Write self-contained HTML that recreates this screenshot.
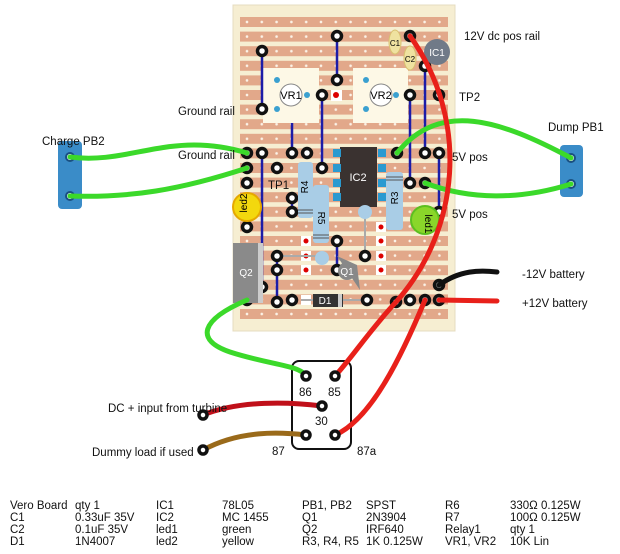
<!DOCTYPE html>
<html><head><meta charset="utf-8"><style>
body{margin:0;background:#fff;width:620px;height:554px;overflow:hidden;font-family:"Liberation Sans","DejaVu Sans",sans-serif}
svg{position:absolute;left:0;top:0}
.t{position:absolute;font-size:11.5px;color:#111;white-space:nowrap;line-height:12px}
</style></head><body>
<svg width="620" height="554" viewBox="0 0 620 554" font-family="Liberation Sans, DejaVu Sans, sans-serif">
<defs>
<pattern id="holes" x="239.6" y="14.7" width="14.8" height="14.6" patternUnits="userSpaceOnUse">
<circle cx="7.4" cy="7.3" r="1.3" fill="#fbf3e8"/>
</pattern>
</defs>
<!-- board -->
<rect x="233" y="5" width="222" height="326" fill="#f6eed2" stroke="#e6dcc0"/>
<g fill="#e2a88a">
<rect x="240" y="17" width="208" height="10"/><rect x="240" y="31.6" width="208" height="10"/><rect x="240" y="46.2" width="208" height="10"/><rect x="240" y="60.8" width="208" height="10"/><rect x="240" y="75.4" width="208" height="10"/><rect x="240" y="90" width="208" height="10"/><rect x="240" y="104.6" width="208" height="10"/><rect x="240" y="119.2" width="208" height="10"/><rect x="240" y="133.8" width="208" height="10"/><rect x="240" y="148.4" width="208" height="10"/><rect x="240" y="163" width="208" height="10"/><rect x="240" y="177.6" width="208" height="10"/><rect x="240" y="192.2" width="208" height="10"/><rect x="240" y="206.8" width="208" height="10"/><rect x="240" y="221.4" width="208" height="10"/><rect x="240" y="236" width="208" height="10"/><rect x="240" y="250.6" width="208" height="10"/><rect x="240" y="265.2" width="208" height="10"/><rect x="240" y="279.8" width="208" height="10"/><rect x="240" y="294.4" width="208" height="10"/><rect x="240" y="309" width="208" height="10"/>
</g>
<rect x="240" y="15" width="208" height="305" fill="url(#holes)"/>
<!-- VR boxes -->
<rect x="263" y="68" width="56" height="55" fill="#fdf8e6"/>
<rect x="353" y="68" width="55" height="55" fill="#fdf8e6"/>
<circle cx="291" cy="95" r="11" fill="#fff" stroke="#888"/><text x="291" y="99" font-size="11" text-anchor="middle">VR1</text>
<circle cx="381" cy="95" r="11" fill="#fff" stroke="#888"/><text x="381" y="99" font-size="11" text-anchor="middle">VR2</text>
<g fill="#3aa0d0"><circle cx="277" cy="80" r="3"/><circle cx="277" cy="109" r="3"/><circle cx="307" cy="95" r="3"/><circle cx="366" cy="80" r="3"/><circle cx="366" cy="109" r="3"/><circle cx="396" cy="95" r="3"/></g>
<rect x="331" y="90" width="11" height="11" fill="#fff"/><circle cx="336" cy="95" r="3" fill="#d00"/>
<!-- IC2 -->
<rect x="340" y="147" width="37" height="60" fill="#3a3230"/>
<text x="358" y="181" font-size="11" fill="#fff" text-anchor="middle">IC2</text>
<g fill="#2a9ad0"><rect x="333" y="149" width="8" height="8"/><rect x="333" y="164" width="8" height="8"/><rect x="333" y="179" width="8" height="8"/><rect x="333" y="193" width="8" height="8"/><rect x="378" y="149" width="8" height="8"/><rect x="378" y="164" width="8" height="8"/><rect x="378" y="179" width="8" height="8"/><rect x="378" y="193" width="8" height="8"/></g>
<!-- red dots -->
<g fill="#fff"><rect x="301" y="236" width="10" height="10"/><rect x="301" y="251" width="10" height="10"/><rect x="301" y="265" width="10" height="10"/><rect x="376" y="222" width="10" height="10"/><rect x="376" y="236" width="10" height="10"/><rect x="376" y="251" width="10" height="10"/><rect x="376" y="265" width="10" height="10"/><rect x="301" y="295" width="10" height="10"/></g>
<g fill="#d00"><circle cx="306" cy="241" r="2.5"/><circle cx="306" cy="256" r="2.5"/><circle cx="306" cy="270" r="2.5"/><circle cx="381" cy="227" r="2.5"/><circle cx="381" cy="241" r="2.5"/><circle cx="381" cy="256" r="2.5"/><circle cx="381" cy="270" r="2.5"/></g>
<!-- gray jumpers -->
<g stroke="#aaa" stroke-width="2"><line x1="277" y1="256" x2="320" y2="256"/><line x1="365" y1="212" x2="365" y2="256"/><line x1="301" y1="300" x2="367" y2="300"/></g>
<!-- blue jumpers -->
<g stroke="#1c1ca8" stroke-width="2.5">
<line x1="262" y1="51" x2="262" y2="109"/><line x1="337" y1="36" x2="337" y2="80"/><line x1="292" y1="123" x2="292" y2="153"/>
<line x1="322" y1="95" x2="322" y2="168"/><line x1="410" y1="95" x2="410" y2="183"/><line x1="425" y1="66" x2="425" y2="153"/>
<line x1="439" y1="153" x2="439" y2="212"/><line x1="262" y1="153" x2="262" y2="287"/><line x1="277" y1="257" x2="277" y2="302"/>
<line x1="292" y1="198" x2="292" y2="212"/><line x1="337" y1="241" x2="337" y2="270"/>
</g>
<!-- black pads -->
<g fill="#fff" stroke="#111" stroke-width="3.5">
<circle cx="262" cy="51" r="4.5"/><circle cx="262" cy="109" r="4.5"/><circle cx="337" cy="36" r="4.5"/><circle cx="337" cy="80" r="4.5"/>
<circle cx="322" cy="95" r="4.5"/><circle cx="410" cy="95" r="4.5"/><circle cx="425" cy="66" r="4.5"/><circle cx="439" cy="95" r="4.5"/>
<circle cx="247" cy="153" r="4.5"/><circle cx="262" cy="153" r="4.5"/><circle cx="292" cy="153" r="4.5"/><circle cx="307" cy="153" r="4.5"/><circle cx="322" cy="168" r="4.5"/><circle cx="397" cy="153" r="4.5"/><circle cx="425" cy="153" r="4.5"/><circle cx="439" cy="153" r="4.5"/>
<circle cx="247" cy="168" r="4.5"/><circle cx="277" cy="168" r="4.5"/><circle cx="247" cy="183" r="4.5"/><circle cx="410" cy="183" r="4.5"/><circle cx="425" cy="183" r="4.5"/>
<circle cx="292" cy="198" r="4.5"/><circle cx="292" cy="212" r="4.5"/><circle cx="439" cy="212" r="4.5"/><circle cx="247" cy="227" r="4.5"/>
<circle cx="277" cy="256" r="4.5"/><circle cx="337" cy="241" r="4.5"/><circle cx="365" cy="256" r="4.5"/><circle cx="277" cy="270" r="4.5"/><circle cx="337" cy="270" r="4.5"/><circle cx="262" cy="287" r="4.5"/>
<circle cx="277" cy="302" r="4.5"/><circle cx="292" cy="300" r="4.5"/><circle cx="367" cy="300" r="4.5"/><circle cx="396" cy="302" r="4.5"/><circle cx="410" cy="300" r="4.5"/><circle cx="425" cy="300" r="4.5"/><circle cx="439" cy="300" r="4.5"/><circle cx="439" cy="285" r="4.5"/><circle cx="410" cy="36" r="4.5"/><circle cx="247" cy="300" r="4.5"/>
</g>
<!-- resistors -->
<rect x="298" y="162" width="15" height="56" rx="3" fill="#a9cde6"/><text x="309" y="192" font-size="10" transform="rotate(-90 306 190)" text-anchor="middle">R4</text>
<rect x="313" y="185" width="16" height="58" rx="3" fill="#a9cde6"/><text x="325" y="217" font-size="10" transform="rotate(90 321 214)" text-anchor="middle">R5</text>
<rect x="386" y="172" width="17" height="58" rx="3" fill="#a9cde6"/><text x="397" y="203" font-size="10" transform="rotate(-90 395 200)" text-anchor="middle">R3</text>
<g stroke="#555" stroke-width="1"><line x1="298" y1="210" x2="313" y2="210"/><line x1="298" y1="213" x2="313" y2="213"/><line x1="313" y1="235" x2="329" y2="235"/><line x1="313" y1="238" x2="329" y2="238"/><line x1="386" y1="177" x2="403" y2="177"/><line x1="386" y1="180" x2="403" y2="180"/></g>
<circle cx="322" cy="258" r="7" fill="#a9cde6"/><circle cx="365" cy="212" r="7" fill="#a9cde6"/>
<!-- leds -->
<circle cx="247" cy="207" r="14" fill="#f3d80e" stroke="#e6a800" stroke-width="2"/><text x="251" y="207" font-size="10" transform="rotate(-90 247 207)" text-anchor="middle">led2</text>
<circle cx="425" cy="220" r="14" fill="#8ad62a" stroke="#5cbf20" stroke-width="2"/><text x="429" y="220" font-size="10" transform="rotate(90 425 220)" text-anchor="middle">led1</text>
<!-- Q2 Q1 D1 -->
<rect x="233" y="243" width="27" height="60" fill="#8a8a8a"/><rect x="258" y="243" width="5" height="60" fill="#ccc"/>
<text x="246" y="276" font-size="10" fill="#fff" text-anchor="middle">Q2</text>
<path d="M337 256 L357 265 L360 290 Z" fill="#888"/><circle cx="347" cy="271" r="9" fill="#888"/><text x="347" y="275" font-size="10" fill="#fff" text-anchor="middle">Q1</text>
<rect x="313" y="294" width="30" height="13" fill="#333"/><rect x="338" y="294" width="4" height="13" fill="#ccc"/><text x="325" y="304" font-size="10" fill="#fff" text-anchor="middle">D1</text>
<!-- C1 C2 IC1 -->
<ellipse cx="395" cy="42" rx="6" ry="12" fill="#efe2a0" stroke="#d8c070"/><text x="395" y="46" font-size="8" text-anchor="middle">C1</text>
<ellipse cx="410" cy="58" rx="6" ry="12" fill="#efe2a0" stroke="#d8c070"/><text x="410" y="62" font-size="8" text-anchor="middle">C2</text>
<circle cx="437" cy="52" r="13" fill="#707a88"/><text x="437" y="56" font-size="10" fill="#fff" text-anchor="middle">IC1</text>
<!-- push buttons -->
<rect x="58" y="141" width="24" height="68" rx="4" fill="#3a8cc8"/><circle cx="70" cy="157" r="4" fill="#fff" stroke="#1a5080" stroke-width="2"/><circle cx="70" cy="196" r="4" fill="#fff" stroke="#1a5080" stroke-width="2"/>
<rect x="560" y="145" width="23" height="52" rx="4" fill="#3a8cc8"/><circle cx="571" cy="158" r="4" fill="#fff" stroke="#1a5080" stroke-width="2"/><circle cx="571" cy="184" r="4" fill="#fff" stroke="#1a5080" stroke-width="2"/>
<!-- relay -->
<rect x="292" y="361" width="59" height="88" rx="7" fill="#fff" stroke="#111" stroke-width="2"/>
<!-- wires -->
<g fill="none" stroke-linecap="round">
<path d="M247 153 C170 130 130 165 70 157" stroke="#3bd92a" stroke-width="5"/>
<path d="M247 168 C180 190 130 198 70 196" stroke="#3bd92a" stroke-width="5"/>
<path d="M397 153 C440 100 500 120 571 158" stroke="#3bd92a" stroke-width="5"/>
<path d="M425 183 C470 200 520 200 571 184" stroke="#3bd92a" stroke-width="5"/>
<path d="M247 300 C200 320 195 340 230 352 C270 365 300 365 306 376" stroke="#3bd92a" stroke-width="5"/>
<path d="M410 36 C470 120 460 230 396 302 C370 330 350 360 335 376" stroke="#e8201a" stroke-width="5"/>
<path d="M425 300 C400 360 370 420 335 435" stroke="#e8201a" stroke-width="5"/>
<path d="M439 285 C460 270 480 270 497 272" stroke="#111" stroke-width="5"/>
<path d="M439 300 L497 301" stroke="#e8201a" stroke-width="5"/>
<path d="M203 415 C240 400 290 402 322 406" stroke="#c0101a" stroke-width="5"/>
<path d="M203 450 C240 430 280 432 306 435" stroke="#9a6a1a" stroke-width="5"/>
</g>
<g fill="#fff" stroke="#111" stroke-width="3.5">
<circle cx="306" cy="376" r="4"/><circle cx="335" cy="376" r="4"/><circle cx="322" cy="406" r="4"/><circle cx="306" cy="435" r="4"/><circle cx="335" cy="435" r="4"/>
<circle cx="203" cy="415" r="4"/><circle cx="203" cy="450" r="4"/>
</g>
<g font-size="11.5" fill="#111">
<text x="464" y="40">12V dc pos rail</text>
<text x="178" y="115">Ground rail</text><text x="178" y="159">Ground rail</text>
<text x="459" y="101">TP2</text><text x="268" y="189">TP1</text>
<text x="452" y="161">5V pos</text><text x="452" y="218">5V pos</text>
<text x="42" y="145">Charge PB2</text><text x="548" y="131">Dump PB1</text>
<text x="522" y="278">-12V battery</text><text x="522" y="307">+12V battery</text>
<text x="108" y="412">DC +  input from turbine</text><text x="92" y="456">Dummy load if used</text>
<text x="299" y="396">86</text><text x="328" y="396">85</text><text x="315" y="425">30</text><text x="272" y="455">87</text><text x="357" y="455">87a</text>
</g>
</svg>
<div class="t" style="left:10px;top:500px">Vero Board<br>C1<br>C2<br>D1</div>
<div class="t" style="left:75px;top:500px">qty 1<br>0.33uF 35V<br>0.1uF 35V<br>1N4007</div>
<div class="t" style="left:156px;top:500px">IC1<br>IC2<br>led1<br>led2</div>
<div class="t" style="left:222px;top:500px">78L05<br>MC 1455<br>green<br>yellow</div>
<div class="t" style="left:302px;top:500px">PB1, PB2<br>Q1<br>Q2<br>R3, R4, R5</div>
<div class="t" style="left:366px;top:500px">SPST<br>2N3904<br>IRF640<br>1K 0.125W</div>
<div class="t" style="left:445px;top:500px">R6<br>R7<br>Relay1<br>VR1, VR2</div>
<div class="t" style="left:510px;top:500px">330Ω 0.125W<br>100Ω 0.125W<br>qty 1<br>10K Lin</div>
</body></html>
